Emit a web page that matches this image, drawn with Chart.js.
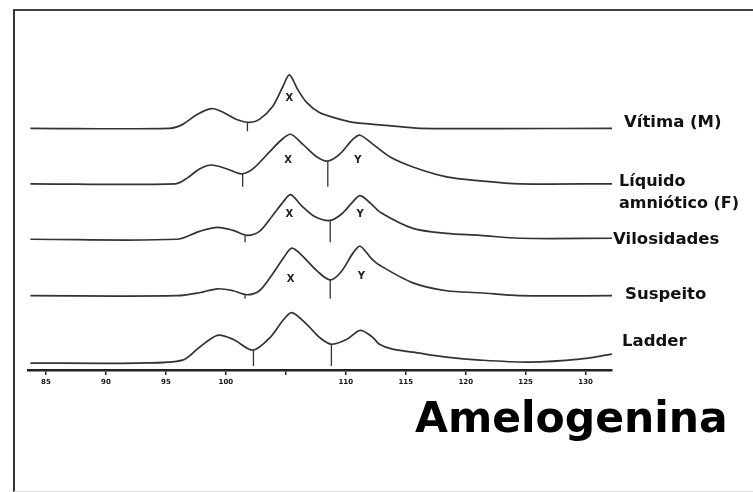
<!DOCTYPE html>
<html>
<head>
<meta charset="utf-8">
<script src="https://cdn.jsdelivr.net/npm/chart.js@4"></script>
<style>
  html, body { margin: 0; padding: 0; background: #fff; }
  #wrap { position: relative; width: 753px; height: 492px; overflow: hidden; }
  #frame { position: absolute; left: 13px; top: 9px; width: 760px; height: 480px;
           border-left: 2px solid #333; border-top: 2px solid #444; border-bottom: 1px solid #ddd; }
  canvas { position: absolute; left: 0; top: 0; }
  .lab { position: absolute; font: bold 16.5px "DejaVu Sans"; line-height: 1; color: #111; white-space: nowrap; }
  #title { position: absolute; left: 415px; top: 397px; font: bold 42.5px "DejaVu Sans"; line-height: 1; color: #000; }
</style>
</head>
<body>
<div id="wrap">
  <div id="frame"></div>
  <canvas id="chart" width="753" height="492"></canvas>
  <div class="lab" style="left:624px;top:114px">Vítima (M)</div>
  <div class="lab" style="left:619px;top:170px;line-height:22px;font-size:16px">Líquido<br>amniótico (F)</div>
  <div class="lab" style="left:613px;top:231px">Vilosidades</div>
  <div class="lab" style="left:625px;top:286px">Suspeito</div>
  <div class="lab" style="left:622px;top:333px">Ladder</div>
  <div id="title">Amelogenina</div>
</div>
<script>
// eixo x (pb)
const TICK_VALUES = [85, 90, 95, 100, 105, 110, 115, 120, 125, 130];
const TICK_LABELS = ['85', '90', '95', '100', '', '110', '115', '120', '125', '130'];

const BP_VITIMA  = [83.7, 95.3, 96.4, 97.6, 98.8, 99.8, 100.9, 102.0, 102.8, 103.9, 104.75, 105.3, 106.0, 106.75, 107.8, 109.25, 110.6, 113.4, 116.2, 132.2];
const RFU_VITIMA = [0, 0, 4, 14, 20, 16, 9, 6, 9, 22, 42, 54, 39, 26, 16, 10, 6, 3, 0, 0];

const BP_LIQUIDO  = [83.7, 95.8, 96.8, 97.8, 98.8, 100.1, 101.3, 102.25, 103.7, 104.6, 105.4, 106.4, 107.6, 108.5, 109.5, 110.6, 111.2, 112.25, 113.7, 115.6, 118.4, 121.2, 124.5, 132.2];
const RFU_LIQUIDO = [0, 0, 6, 15, 19, 15, 10, 15, 33, 44, 50, 40, 27, 23, 30, 45, 49, 40, 27, 17, 7, 3, 0, 0];

const BP_VILOS  = [83.7, 95.9, 97.8, 99.3, 100.6, 101.75, 102.8, 103.9, 104.8, 105.4, 106.3, 107.4, 108.7, 109.7, 110.6, 111.2, 112.1, 112.9, 115.6, 118.4, 121.2, 124.5, 132.2];
const RFU_VILOS = [0, 0, 8, 12, 9, 4, 8, 24, 38, 45, 34, 23, 19, 26, 38, 44, 36, 27, 11, 6, 4, 1, 1];

const BP_SUSPEITO  = [83.7, 95.9, 97.8, 99.3, 100.6, 101.75, 102.8, 103.9, 104.8, 105.5, 106.4, 107.6, 108.7, 109.6, 110.6, 111.2, 112.1, 112.8, 115.6, 118.4, 121.2, 124.5, 132.2];
const RFU_SUSPEITO = [0, 0, 3, 7, 5, 1, 5, 22, 38, 48, 40, 25, 16, 24, 43, 50, 38, 31, 13, 5, 3, 0, 0];

const BP_LADDER  = [83.7, 92.6, 96.4, 97.8, 99.3, 100.6, 102.25, 103.7, 104.75, 105.5, 106.75, 107.8, 108.8, 110.1, 111.2, 112.25, 112.8, 113.9, 115.6, 118.4, 121.2, 125.3, 129.5, 132.2];
const RFU_LADDER = [0, 0, 3, 16, 28, 24, 13, 26, 43, 51, 39, 26, 19, 24, 33, 26, 19, 14, 11, 6, 3, 1, 4, 9];

// linhas de separação dos picos: [pb, altura]
const VALLEY_VITIMA   = [[101.8, 6]];
const VALLEY_LIQUIDO  = [[101.4, 10], [108.5, 23]];
const VALLEY_VILOS    = [[101.6, 4], [108.7, 19]];
const VALLEY_SUSPEITO = [[101.6, 1], [108.7, 16]];
const VALLEY_LADDER   = [[102.3, 13], [108.8, 19]];

// alelos chamados: [alelo, pb, altura do rótulo]
const CALLS_VITIMA   = [['X', 105.3, 30]];
const CALLS_LIQUIDO  = [['X', 105.2, 24], ['Y', 111.0, 24]];
const CALLS_VILOS    = [['X', 105.3, 25], ['Y', 111.2, 25]];
const CALLS_SUSPEITO = [['X', 105.4, 16], ['Y', 111.3, 19]];
const CALLS_LADDER   = [];

const TRACES = [
  { bp: BP_VITIMA,   rfu: RFU_VITIMA,   valleys: VALLEY_VITIMA,   calls: CALLS_VITIMA },
  { bp: BP_LIQUIDO,  rfu: RFU_LIQUIDO,  valleys: VALLEY_LIQUIDO,  calls: CALLS_LIQUIDO },
  { bp: BP_VILOS,    rfu: RFU_VILOS,    valleys: VALLEY_VILOS,    calls: CALLS_VILOS },
  { bp: BP_SUSPEITO, rfu: RFU_SUSPEITO, valleys: VALLEY_SUSPEITO, calls: CALLS_SUSPEITO },
  { bp: BP_LADDER,   rfu: RFU_LADDER,   valleys: VALLEY_LADDER,   calls: CALLS_LADDER }
];

// layout: linha de base de cada traço (px) dentro da área do gráfico
const PLOT_TOP = 60, PLOT_BOTTOM = 373;
const BASELINE_PX = [129, 185, 241, 298, 366];

const LINE = '#333';
const datasets = [];
const scales = {
  x: {
    type: 'linear', min: 83.5, max: 132.2,
    afterBuildTicks: axis => { axis.ticks = TICK_VALUES.map(v => ({ value: v })); },
    ticks: {
      callback: (v) => TICK_LABELS[TICK_VALUES.indexOf(v)] ?? '',
      font: { family: 'DejaVu Sans', size: 7, weight: 'bold' }, color: '#111',
      padding: 3, maxRotation: 0, autoSkip: false
    },
    grid: { drawOnChartArea: false, drawTicks: true, tickLength: 5, color: '#222', lineWidth: 1.5 },
    border: { display: true, color: '#222', width: 2.5 }
  }
};

TRACES.forEach((t, k) => {
  const id = 'y' + k;
  scales[id] = {
    type: 'linear', display: false,
    min: -(PLOT_BOTTOM - BASELINE_PX[k]),
    max: BASELINE_PX[k] - PLOT_TOP
  };
  datasets.push({
    data: t.bp.map((b, i) => ({ x: b, y: t.rfu[i] })),
    yAxisID: id, borderColor: LINE, borderWidth: 1.7,
    pointRadius: 0, tension: 0.3, fill: false
  });
  const vdata = [];
  t.valleys.forEach(([b, h]) => {
    vdata.push({ x: b, y: h }, { x: b, y: -3 }, { x: b, y: null });
  });
  datasets.push({
    data: vdata, yAxisID: id, borderColor: LINE, borderWidth: 1.3,
    pointRadius: 0, spanGaps: false, fill: false
  });
});

// rótulos X / Y sob os picos
const callLabels = {
  id: 'callLabels',
  afterDatasetsDraw(chart) {
    const ctx = chart.ctx;
    ctx.save();
    ctx.font = 'bold 10px "DejaVu Sans"';
    ctx.fillStyle = '#222';
    ctx.textAlign = 'center';
    ctx.textBaseline = 'middle';
    TRACES.forEach((t, k) => {
      const ys = chart.scales['y' + k];
      t.calls.forEach(([allele, b, at]) => {
        ctx.fillText(allele, chart.scales.x.getPixelForValue(b), ys.getPixelForValue(at));
      });
    });
    ctx.restore();
  }
};

new Chart(document.getElementById('chart'), {
  type: 'line',
  data: { datasets },
  options: {
    responsive: false, animation: false,
    layout: { padding: { left: 28, right: 141, top: PLOT_TOP, bottom: 102.6 } },
    plugins: { legend: { display: false }, tooltip: { enabled: false } },
    scales
  },
  plugins: [callLabels]
});
</script>
</body>
</html>
